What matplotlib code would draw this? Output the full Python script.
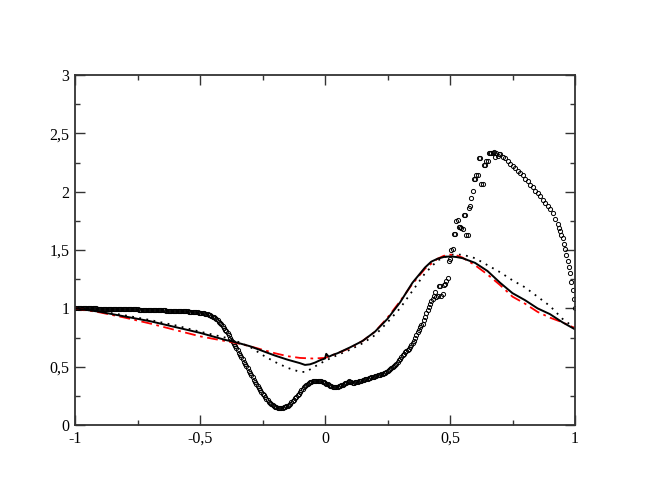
import matplotlib
matplotlib.use("Agg")
import matplotlib.pyplot as plt
from matplotlib.ticker import MultipleLocator, FixedLocator, FixedFormatter

# ---- data ----
line_x = [-1.0, -0.95, -0.9, -0.85, -0.8, -0.75, -0.7, -0.65, -0.6, -0.55, -0.5, -0.45,
          -0.4, -0.35, -0.3, -0.25, -0.2, -0.15, -0.1, -0.08, -0.06, -0.04, -0.02, 0.0,
          0.005, 0.015, 0.03, 0.05, 0.1, 0.15, 0.2, 0.25, 0.3, 0.35, 0.4, 0.425, 0.45,
          0.475, 0.5, 0.525, 0.55, 0.6, 0.65, 0.7, 0.75, 0.8, 0.85, 0.9, 0.95, 1.0]
solid_y = [1.0, 0.985, 0.97, 0.95, 0.93, 0.91, 0.89, 0.865, 0.84, 0.815, 0.79, 0.76,
           0.73, 0.705, 0.675, 0.635, 0.595, 0.56, 0.53, 0.515, 0.52, 0.535, 0.555, 0.57,
           0.61, 0.585, 0.6, 0.615, 0.665, 0.72, 0.8, 0.91, 1.05, 1.22, 1.35, 1.4, 1.425,
           1.44, 1.445, 1.44, 1.43, 1.39, 1.32, 1.22, 1.13, 1.07, 1.0, 0.95, 0.88, 0.82]

dash_x = [-1.0, -0.9, -0.8, -0.7, -0.6, -0.5, -0.4, -0.35, -0.3, -0.25, -0.2, -0.15,
          -0.1, -0.05, 0.0, 0.05, 0.1, 0.15, 0.2, 0.25, 0.3, 0.35, 0.4, 0.45, 0.475,
          0.5, 0.525, 0.55, 0.6, 0.65, 0.7, 0.75, 0.8, 0.85, 0.9, 0.95, 1.0]
red_y = [1.0, 0.965, 0.92, 0.87, 0.815, 0.76, 0.72, 0.7, 0.675, 0.645, 0.615, 0.59,
         0.575, 0.57, 0.575, 0.615, 0.66, 0.72, 0.8, 0.92, 1.06, 1.21, 1.34, 1.425, 1.45,
         1.46, 1.455, 1.435, 1.37, 1.29, 1.2, 1.1, 1.04, 0.97, 0.92, 0.88, 0.83]

dot_x = [-1.0, -0.9, -0.8, -0.7, -0.6, -0.5, -0.4, -0.35, -0.3, -0.25, -0.2, -0.15,
         -0.1, -0.075, -0.05, 0.0, 0.05, 0.1, 0.15, 0.2, 0.25, 0.3, 0.35, 0.4, 0.45,
         0.5, 0.55, 0.6, 0.65, 0.7, 0.75, 0.8, 0.85, 0.9, 0.95, 1.0]
dot_y = [1.0, 0.975, 0.94, 0.9, 0.855, 0.8, 0.75, 0.715, 0.67, 0.6, 0.54, 0.49,
         0.455, 0.455, 0.49, 0.55, 0.6, 0.645, 0.7, 0.77, 0.88, 1.0, 1.15, 1.3, 1.41,
         1.46, 1.46, 1.43, 1.37, 1.31, 1.24, 1.18, 1.1, 1.02, 0.91, 0.83]

# circle samples: dense grid up to 0.695, coarser 0.70-0.93, dense again at the end
circ_x = ([round(-1.0 + 0.005 * i, 3) for i in range(340)]
          + [round(0.70 + 0.01 * i, 3) for i in range(24)]
          + [round(0.935 + 0.005 * i, 3) for i in range(14)])
circ_y = [
    1.000, 1.000, 1.000, 1.000, 1.000, 1.000, 1.000, 1.000, 1.000, 1.000,
    1.000, 1.000, 0.999, 0.999, 0.999, 0.999, 0.999, 0.999, 0.998, 0.998,
    0.998, 0.998, 0.998, 0.998, 0.997, 0.997, 0.997, 0.997, 0.997, 0.996,
    0.996, 0.996, 0.996, 0.995, 0.995, 0.995, 0.995, 0.994, 0.994, 0.994,
    0.994, 0.993, 0.993, 0.993, 0.993, 0.992, 0.992, 0.992, 0.991, 0.991,
    0.991, 0.990, 0.990, 0.990, 0.989, 0.989, 0.988, 0.988, 0.988, 0.987,
    0.987, 0.987, 0.986, 0.986, 0.985, 0.985, 0.984, 0.984, 0.983, 0.983,
    0.983, 0.982, 0.982, 0.981, 0.981, 0.980, 0.980, 0.979, 0.979, 0.978,
    0.978, 0.977, 0.977, 0.976, 0.976, 0.975, 0.975, 0.974, 0.974, 0.973,
    0.973, 0.972, 0.971, 0.970, 0.969, 0.968, 0.967, 0.966, 0.965, 0.964,
    0.962, 0.960, 0.958, 0.956, 0.954, 0.951, 0.948, 0.944, 0.940, 0.935,
    0.930, 0.923, 0.915, 0.906, 0.897, 0.886, 0.875, 0.862, 0.848, 0.833,
    0.818, 0.802, 0.785, 0.768, 0.750, 0.732, 0.714, 0.696, 0.677, 0.659,
    0.640, 0.621, 0.602, 0.583, 0.563, 0.544, 0.524, 0.505, 0.485, 0.466,
    0.446, 0.427, 0.408, 0.389, 0.370, 0.352, 0.334, 0.317, 0.300, 0.284,
    0.268, 0.253, 0.238, 0.224, 0.211, 0.199, 0.188, 0.179, 0.170, 0.163,
    0.157, 0.153, 0.149, 0.147, 0.146, 0.146, 0.148, 0.151, 0.155, 0.161,
    0.167, 0.175, 0.184, 0.194, 0.205, 0.217, 0.229, 0.242, 0.256, 0.270,
    0.284, 0.297, 0.310, 0.322, 0.334, 0.344, 0.353, 0.361, 0.367, 0.372,
    0.375, 0.377, 0.379, 0.380, 0.380, 0.380, 0.378, 0.376, 0.372, 0.367,
    0.362, 0.355, 0.348, 0.341, 0.335, 0.331, 0.328, 0.327, 0.327, 0.328,
    0.330, 0.333, 0.336, 0.340, 0.345, 0.350, 0.356, 0.363, 0.370, 0.373,
    0.372, 0.366, 0.362, 0.363, 0.366, 0.369, 0.372, 0.375, 0.378, 0.381,
    0.385, 0.388, 0.392, 0.395, 0.398, 0.401, 0.405, 0.408, 0.411, 0.415,
    0.418, 0.421, 0.425, 0.428, 0.432, 0.436, 0.440, 0.445, 0.450, 0.456,
    0.462, 0.470, 0.478, 0.486, 0.495, 0.505, 0.515, 0.527, 0.540, 0.554,
    0.568, 0.583, 0.598, 0.612, 0.625, 0.632, 0.640, 0.652, 0.665, 0.682,
    0.700, 0.722, 0.745, 0.770, 0.795, 0.818, 0.840, 0.855, 0.870, 0.900,
    0.930, 0.960, 0.990, 1.015, 1.040, 1.060, 1.080, 1.110, 1.140, 1.100,
    1.105, 1.190, 1.195, 1.110, 1.120, 1.200, 1.210, 1.235, 1.260, 1.410,
    1.420, 1.500, 1.510, 1.640, 1.640, 1.750, 1.760, 1.700, 1.700, 1.690,
    1.680, 1.800, 1.800, 1.630, 1.630, 1.860, 1.880, 1.950, 2.010, 2.110,
    2.110, 2.140, 2.140, 2.290, 2.290, 2.070, 2.070, 2.230, 2.230, 2.260,
    2.260, 2.330, 2.330, 2.330, 2.335, 2.340, 2.300, 2.330, 2.305, 2.325,
    # 0.70 - 0.93 (step 0.01)
    2.320, 2.300, 2.290, 2.260, 2.240, 2.220, 2.200, 2.180, 2.160, 2.140,
    2.110, 2.090, 2.060, 2.040, 2.010, 1.990, 1.960, 1.930, 1.900, 1.880,
    1.855, 1.820, 1.770, 1.720,
    # 0.935 - 1.00 (step 0.005)
    1.690, 1.660, 1.630, 1.600, 1.555, 1.510, 1.460, 1.410, 1.355, 1.300,
    1.230, 1.160, 1.080, 1.000]
assert len(circ_x) == len(circ_y)

x_ticks = [-1, -0.5, 0, 0.5, 1]
x_labels = ["-1", "-0,5", "0", "0,5", "1"]
y_ticks = [0, 0.5, 1, 1.5, 2, 2.5, 3]
y_labels = ["0", "0,5", "1", "1,5", "2", "2,5", "3"]

# ---- plot ----
plt.rcParams['font.family'] = ['Liberation Serif', 'DejaVu Serif']
fig = plt.figure(figsize=(6.48, 5.01), dpi=100)
ax = fig.add_axes([75 / 648, 76 / 501, 500 / 648, 350 / 501])

ax.plot(circ_x, circ_y, linestyle='none', marker='o', markersize=3.0,
        markerfacecolor='none', markeredgecolor='black', markeredgewidth=0.7)
ax.plot(dot_x, dot_y, color='black', linewidth=1.3, linestyle=(0, (1, 3)))
ax.plot(dash_x, red_y, color='red', linewidth=1.3, linestyle=(0, (6, 2.5, 1.5, 2.5)))
ax.plot(line_x, solid_y, color='black', linewidth=1.4)

ax.set_xlim(-1, 1)
ax.set_ylim(0, 3)
ax.xaxis.set_major_locator(FixedLocator(x_ticks))
ax.xaxis.set_major_formatter(FixedFormatter(x_labels))
ax.yaxis.set_major_locator(FixedLocator(y_ticks))
ax.yaxis.set_major_formatter(FixedFormatter(y_labels))
ax.xaxis.set_minor_locator(MultipleLocator(0.25))
ax.yaxis.set_minor_locator(MultipleLocator(0.25))
ax.tick_params(which='both', direction='in', top=True, right=True,
               labelsize=11.5, width=1.0, color='#333333')
ax.tick_params(which='major', length=7, pad=4)
ax.tick_params(which='minor', length=3.5)
for s in ax.spines.values():
    s.set_linewidth(1.3)
    s.set_color('#333333')

fig.savefig("out.png", dpi=100)
